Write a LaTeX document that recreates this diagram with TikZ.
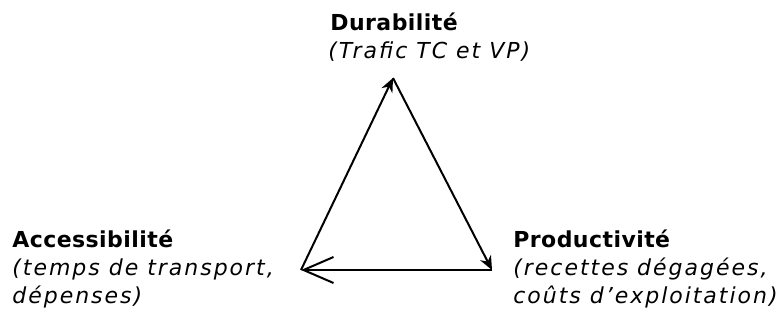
\documentclass[tikz,border=0pt]{standalone}
\usepackage{fontspec}
\setmainfont{DejaVu Sans}
\newfontfamily\headfont{DejaVu Sans}[LetterSpace=2]
\newfontfamily\notefont{DejaVu Sans}[LetterSpace=9]
\usetikzlibrary{positioning, calc, arrows.meta}

\begin{document}
\begin{tikzpicture}[
    x=0.5pt, y=-0.5pt,
    every node/.style={
        inner sep=0pt,
        align=left,
        anchor=base west,
        font=\fontsize{11}{14}\selectfont
    },
    head/.style={font=\fontsize{11}{14}\selectfont\headfont\bfseries},
    note/.style={font=\fontsize{11}{14}\selectfont\notefont\itshape},
    arrow/.style={-{Stealth[length=7pt,width=6pt]}, line width=1pt},
    backarrow/.style={-{Straight Barb[length=15pt,width=13pt,line width=1pt]}, line width=1pt}
]
\useasboundingbox (0,0) rectangle (784,322);
% corners of the triangle
\coordinate (acc) at (301,270);
\coordinate (dur) at (393,78);
\coordinate (prod) at (492,270);
% labels (base = last line)
\node[head] (dur_title) at (330,30) {Durabilité};
\node[note] (dur_note) at ($(dur_title.base west)+(-2,28)$) {(Trafic TC et VP)};
\node[head] (acc_title) at (12,247) {Accessibilité};
\node[note] (acc_note) at ($(acc_title.base west)+(0,56)$) {(temps de transport,\\dépenses)};
\node[head] (prod_title) at (513,247) {Productivité};
\node[note] (prod_note) at ($(prod_title.base west)+(0,56)$) {(recettes dégagées,\\coûts d’exploitation)};
% cycle
\draw[arrow] (acc) -- (dur);
\draw[arrow] (dur) -- (prod);
\draw[backarrow] (prod) -- (acc);
\end{tikzpicture}
\end{document}
